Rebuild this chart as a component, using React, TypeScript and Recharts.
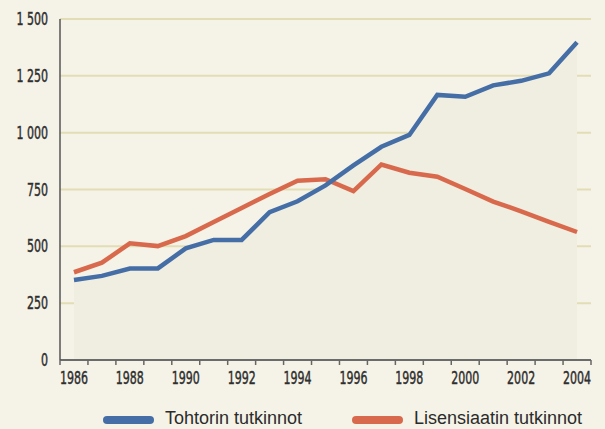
import { Area, CartesianGrid, ComposedChart, Legend, Line, XAxis, YAxis } from 'recharts';

const years = [1986, 1987, 1988, 1989, 1990, 1991, 1992, 1993, 1994, 1995, 1996, 1997, 1998, 1999, 2000, 2001, 2002, 2003, 2004];
const tohtorin = [352, 370, 402, 403, 491, 528, 528, 650, 698, 768, 856, 938, 990, 1166, 1158, 1208, 1228, 1261, 1398];
const lisensiaatin = [386, 428, 513, 501, 545, 607, 669, 730, 789, 795, 743, 860, 824, 806, 752, 697, 654, 608, 563];
const seriesNames = ['Tohtorin tutkinnot', 'Lisensiaatin tutkinnot'];
const yTicks = [0, 250, 500, 750, 1000, 1250, 1500];
const labelYears = [1986, 1988, 1990, 1992, 1994, 1996, 1998, 2000, 2002, 2004];

const data = years.map((year, i) => ({ year, tohtorin: tohtorin[i], lisensiaatin: lisensiaatin[i] }));

// tick marks sit between the years, labels sit on every other year
const tickMarks = [...years.map((y) => y - 0.5), years[years.length - 1] + 0.5];
const xTicks = [...tickMarks, ...labelYears].sort((a, b) => a - b);

const BLUE = '#456ea6';
const ORANGE = '#d8694c';
const BG = '#f5f3e7';
const narrow = '"DejaVu Sans Condensed", "DejaVu Sans", sans-serif';

const fmt = (v: number) => (v >= 1000 ? `${Math.floor(v / 1000)} ${String(v % 1000).padStart(3, '0')}` : String(v));

// squeezed text to get close to the condensed face of the original
function NarrowText({ x, y, anchor, children }: any) {
  return (
    <text
      transform={`translate(${x},${y}) scale(0.7,1)`}
      textAnchor={anchor}
      fontFamily={narrow}
      fontSize={17.5}
      fill="#2e2e2e"
      stroke="#2e2e2e"
      strokeWidth={0.45}
    >
      {children}
    </text>
  );
}

function YearTick(props: any) {
  const { x, y, payload } = props;
  const v = payload.value;
  if (v % 1 !== 0) {
    return <line x1={x} x2={x} y1={y} y2={y + 5} stroke="#666" strokeWidth={1.5} />;
  }
  return (
    <NarrowText x={x} y={y + 24} anchor="middle">
      {v}
    </NarrowText>
  );
}

function ValueTick(props: any) {
  const { x, y, payload } = props;
  return (
    <NarrowText x={x} y={y + 6} anchor="end">
      {fmt(payload.value)}
    </NarrowText>
  );
}

function LegendBox() {
  const items = [
    { name: seriesNames[0], color: BLUE, x: 103 },
    { name: seriesNames[1], color: ORANGE, x: 352 },
  ];
  return (
    <svg width={591} height={30} style={{ display: 'block' }}>
      {items.map((it) => (
        <g key={it.name}>
          <rect x={it.x} y={17} width={51} height={8} rx={4} fill={it.color} />
          <text x={it.x + 62} y={25} fontFamily='"Liberation Sans", Arial, sans-serif' fontSize={18} fill="#2b2b2b">
            {it.name}
          </text>
        </g>
      ))}
    </svg>
  );
}

export default function App() {
  return (
    <div style={{ position: 'absolute', left: 0, top: 0, width: 605, height: 429, background: BG }}>
      <ComposedChart width={605} height={429} data={data} margin={{ top: 19, right: 14, bottom: 0, left: 0 }}>
        <CartesianGrid vertical={false} stroke="#e2ddb5" strokeWidth={2} />
        <XAxis
          dataKey="year"
          type="number"
          domain={[1985.5, 2004.5]}
          ticks={xTicks}
          interval={0}
          tick={<YearTick />}
          tickLine={false}
          tickSize={0}
          tickMargin={0}
          height={39}
          axisLine={{ stroke: '#6b6b6b', strokeWidth: 2 }}
        />
        <YAxis
          domain={[0, 1500]}
          ticks={yTicks}
          interval={0}
          width={60}
          tickSize={0}
          tickMargin={12}
          tickLine={false}
          tick={<ValueTick />}
          axisLine={{ stroke: '#555', strokeWidth: 1.5 }}
        />
        <Area dataKey="tohtorin" stroke="none" fill="#f0eee0" fillOpacity={1} isAnimationActive={false} legendType="none" />
        <Line dataKey="lisensiaatin" name={seriesNames[1]} stroke={ORANGE} strokeWidth={4.5} dot={false} isAnimationActive={false} />
        <Line dataKey="tohtorin" name={seriesNames[0]} stroke={BLUE} strokeWidth={4.5} dot={false} isAnimationActive={false} />
        <Legend verticalAlign="bottom" content={<LegendBox />} />
      </ComposedChart>
    </div>
  );
}
